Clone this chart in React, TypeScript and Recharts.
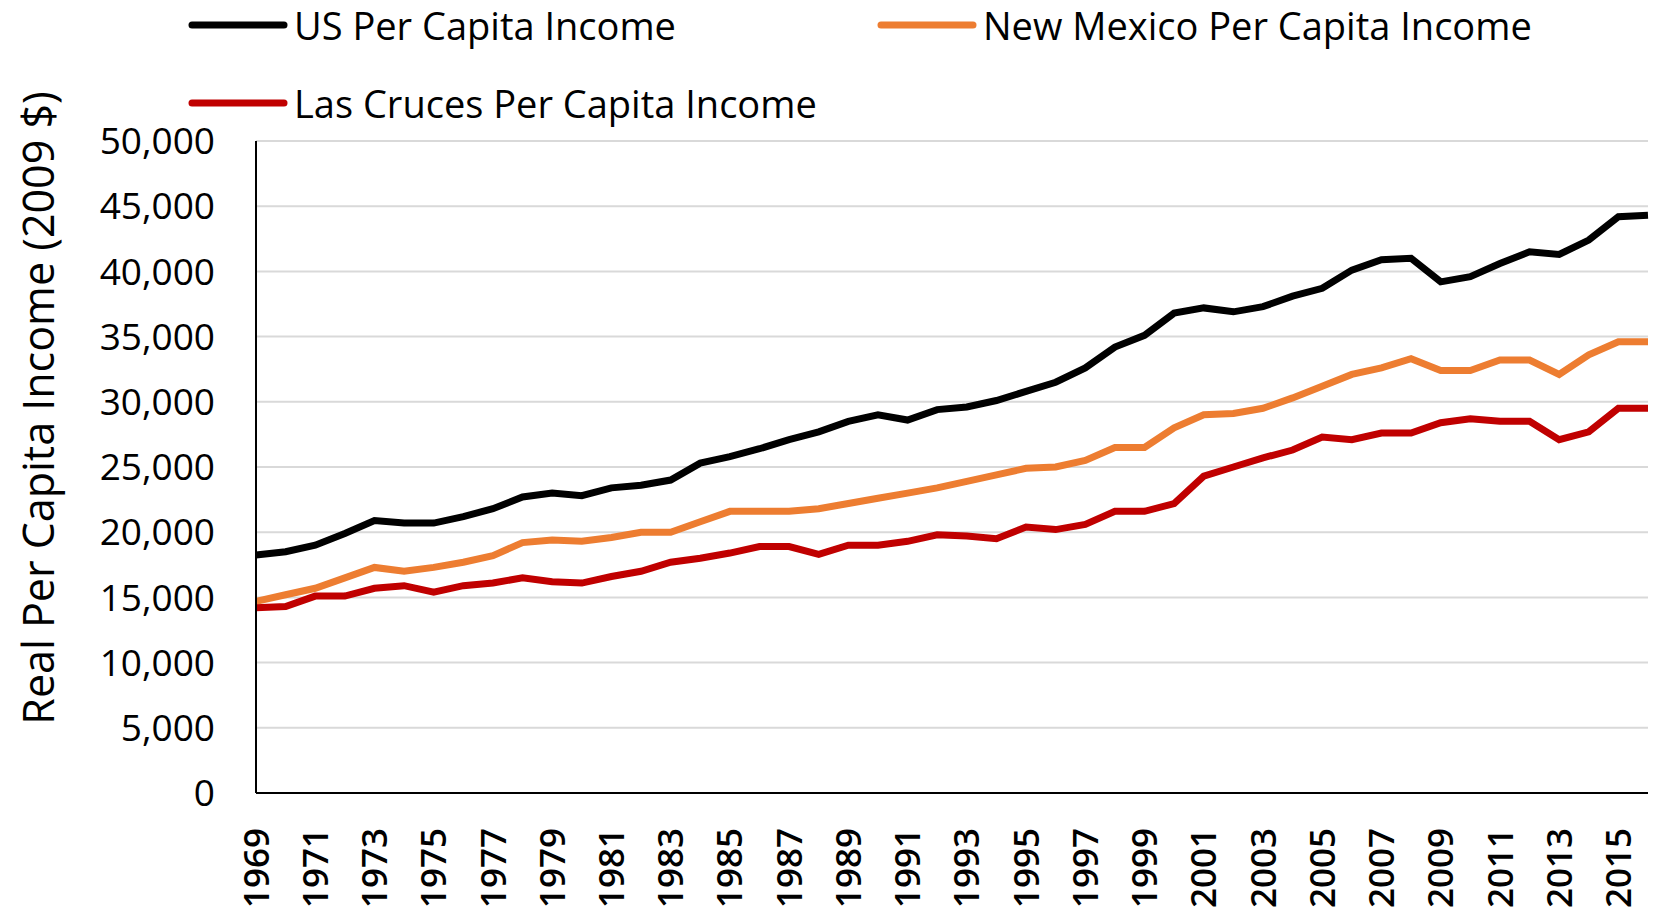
import { LineChart, Line, XAxis, YAxis, CartesianGrid } from "recharts";

const years = [
  1969, 1970, 1971, 1972, 1973, 1974, 1975, 1976, 1977, 1978, 1979, 1980,
  1981, 1982, 1983, 1984, 1985, 1986, 1987, 1988, 1989, 1990, 1991, 1992,
  1993, 1994, 1995, 1996, 1997, 1998, 1999, 2000, 2001, 2002, 2003, 2004,
  2005, 2006, 2007, 2008, 2009, 2010, 2011, 2012, 2013, 2014, 2015, 2016,
];

const usIncome = [
  18250, 18500, 19000, 19900, 20900, 20700, 20700, 21200, 21800, 22700, 23000, 22800,
  23400, 23600, 24000, 25300, 25800, 26400, 27100, 27700, 28500, 29000, 28600, 29400,
  29600, 30100, 30800, 31500, 32600, 34200, 35100, 36800, 37200, 36900, 37300, 38100,
  38700, 40100, 40900, 41000, 39200, 39600, 40600, 41500, 41300, 42400, 44200, 44300,
];

const nmIncome = [
  14700, 15200, 15700, 16500, 17300, 17000, 17300, 17700, 18200, 19200, 19400, 19300,
  19600, 20000, 20000, 20800, 21600, 21600, 21600, 21800, 22200, 22600, 23000, 23400,
  23900, 24400, 24900, 25000, 25500, 26500, 26500, 28000, 29000, 29100, 29500, 30300,
  31200, 32100, 32600, 33300, 32400, 32400, 33200, 33200, 32100, 33600, 34600, 34600,
];

const lcIncome = [
  14200, 14300, 15100, 15100, 15700, 15900, 15400, 15900, 16100, 16500, 16200, 16100,
  16600, 17000, 17700, 18000, 18400, 18900, 18900, 18300, 19000, 19000, 19300, 19800,
  19700, 19500, 20400, 20200, 20600, 21600, 21600, 22200, 24300, 25000, 25700, 26300,
  27300, 27100, 27600, 27600, 28400, 28700, 28500, 28500, 27100, 27700, 29500, 29500,
];

const yTicks = [0, 5000, 10000, 15000, 20000, 25000, 30000, 35000, 40000, 45000, 50000];

const seriesNames = [
  "US Per Capita Income",
  "New Mexico Per Capita Income",
  "Las Cruces Per Capita Income",
];
const seriesColors = ["#000000", "#ED7D31", "#C00000"];
const yTitle = "Real Per Capita  Income (2009 $)";

const data = years.map((y, i) => ({
  year: String(y),
  us: usIncome[i],
  nm: nmIncome[i],
  lc: lcIncome[i],
}));

const FONT = "'Open Sans', sans-serif";

function YearTick(props: any) {
  const { x, y, payload } = props;
  return (
    <text
      x={x}
      y={y}
      transform={`rotate(-90, ${x}, ${y})`}
      textAnchor="end"
      dy="0.36em"
      fontSize={35}
      fontWeight={600}
      fontFamily={FONT}
      fill="#000"
    >
      {payload.value}
    </text>
  );
}

function LegendItem({ idx, left, top }: { idx: number; left: number; top: number }) {
  return (
    <div
      style={{
        position: "absolute",
        left,
        top,
        display: "flex",
        alignItems: "center",
        height: 50,
      }}
    >
      <svg width={100} height={12} style={{ display: "block" }}>
        <line
          x1={4}
          y1={6}
          x2={96}
          y2={6}
          stroke={seriesColors[idx]}
          strokeWidth={7}
          strokeLinecap="round"
        />
      </svg>
      <span
        style={{
          fontFamily: FONT,
          fontSize: 38,
          color: "#000",
          marginLeft: 6,
          whiteSpace: "nowrap",
          lineHeight: "50px",
        }}
      >
        {seriesNames[idx]}
      </span>
    </div>
  );
}

export default function App() {
  return (
    <div
      style={{
        position: "absolute",
        left: 0,
        top: 0,
        width: 1654,
        height: 914,
        background: "#fff",
        overflow: "hidden",
      }}
    >
      <LineChart
        width={1654}
        height={914}
        data={data}
        margin={{ top: 141, right: 6, bottom: 0, left: 0 }}
      >
        <CartesianGrid vertical={false} stroke="#d9d9d9" strokeWidth={2} />
        <XAxis
          dataKey="year"
          height={121}
          interval={1}
          tickLine={false}
          tickSize={0}
          tickMargin={35}
          axisLine={{ stroke: "#000", strokeWidth: 2 }}
          tick={<YearTick />}
        />
        <YAxis
          width={256}
          domain={[0, 50000]}
          ticks={yTicks}
          tickLine={false}
          tickSize={0}
          tickMargin={41}
          axisLine={{ stroke: "#000", strokeWidth: 2 }}
          tickFormatter={(v: number) => v.toLocaleString("en-US")}
          tick={{ fontSize: 37, fontFamily: FONT, fill: "#000" }}
          label={{
            content: () => (
              <text
                x={37}
                y={408}
                transform="rotate(-90, 37, 408)"
                textAnchor="middle"
                dominantBaseline="central"
                fontSize={43}
                fontFamily={FONT}
                fill="#000"
              >
                {yTitle}
              </text>
            ),
          }}
        />
        <Line
          dataKey="us"
          name={seriesNames[0]}
          stroke={seriesColors[0]}
          strokeWidth={7}
          dot={false}
          isAnimationActive={false}
        />
        <Line
          dataKey="nm"
          name={seriesNames[1]}
          stroke={seriesColors[1]}
          strokeWidth={7}
          dot={false}
          isAnimationActive={false}
        />
        <Line
          dataKey="lc"
          name={seriesNames[2]}
          stroke={seriesColors[2]}
          strokeWidth={7}
          dot={false}
          isAnimationActive={false}
        />
      </LineChart>
      <LegendItem idx={0} left={188} top={0} />
      <LegendItem idx={1} left={877} top={0} />
      <LegendItem idx={2} left={188} top={78} />
    </div>
  );
}
